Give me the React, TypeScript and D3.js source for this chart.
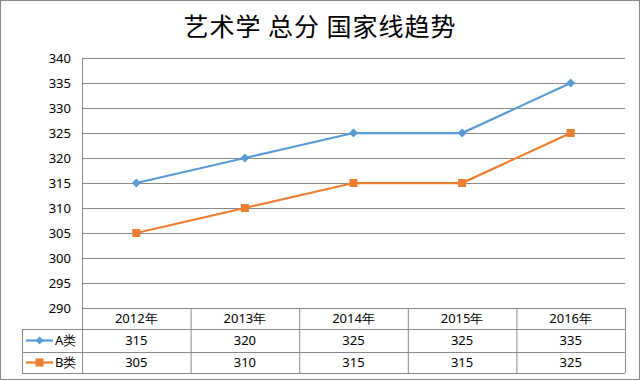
import React from "react";
import * as d3 from "d3";

const categories = ["2012年", "2013年", "2014年", "2015年", "2016年"];
const seriesNames = ["A类", "B类"];
const seriesA = [315, 320, 325, 325, 335];
const seriesB = [305, 310, 315, 315, 325];
const yTicks = [290, 295, 300, 305, 310, 315, 320, 325, 330, 335, 340];
const title = "艺术学 总分 国家线趋势";
const colors = ["#5B9BD5", "#ED7D31"];

const W = 641, H = 381;
const left = 82, right = 625, top = 58, bottom = 308;
const rowH = [308, 329, 352, 373];
const tableLeft = 22;
const grid = "#898989";
const font = "'Noto Sans', 'DejaVu Sans', sans-serif";
const cjk = "'Noto Sans CJK SC', sans-serif";

export default function App() {
  const x = d3.scaleBand<string>().domain(categories).range([left, right]);
  const y = d3.scaleLinear().domain([290, 340]).range([bottom, top]);
  const line = d3.line<number>()
    .x((_, i) => (x(categories[i]) as number) + x.bandwidth() / 2)
    .y((d) => y(d));
  const series = [seriesA, seriesB];

  const diamond = (cx: number, cy: number, r: number) =>
    `M${cx},${cy - r}L${cx + r},${cy}L${cx},${cy + r}L${cx - r},${cy}Z`;

  return (
    <svg width={W} height={H} style={{ position: "absolute", left: 0, top: 0, background: "#fff" }}>
      <rect x={0.5} y={0.5} width={639} height={379} fill="#fff" stroke="#878787" />
      <text x={320} y={36} textAnchor="middle" fontFamily={cjk} fontSize={25} letterSpacing={1} fill="#000">
        {title}
      </text>
      {yTicks.map((t) => (
        <g key={t}>
          <line x1={left} x2={right} y1={Math.round(y(t)) + 0.5} y2={Math.round(y(t)) + 0.5} stroke={grid} />
          <text x={71} y={y(t)} dy="0.35em" textAnchor="end" fontFamily={font} fontSize={13} fill="#000">
            {t}
          </text>
        </g>
      ))}
      <line x1={left + 0.5} x2={left + 0.5} y1={top} y2={rowH[3]} stroke={grid} />
      {/* table */}
      {rowH.map((r, i) => (
        <line key={i} x1={i === 0 ? left : tableLeft} x2={right} y1={r + 0.5} y2={r + 0.5} stroke={grid} />
      ))}
      <line x1={tableLeft + 0.5} x2={tableLeft + 0.5} y1={rowH[1]} y2={rowH[3]} stroke={grid} />
      {categories.map((c) => (
        <line key={c} x1={(x(c) as number) + x.bandwidth() + 0.5} x2={(x(c) as number) + x.bandwidth() + 0.5}
          y1={rowH[0]} y2={rowH[3]} stroke={grid} />
      ))}
      {categories.map((c) => (
        <text key={c} x={(x(c) as number) + x.bandwidth() / 2} y={(rowH[0] + rowH[1]) / 2} dy="0.35em"
          textAnchor="middle" fontFamily={font} fontSize={13} fill="#000">{c}</text>
      ))}
      {series.map((s, si) => (
        <g key={si}>
          {s.map((v, i) => (
            <text key={i} x={(x(categories[i]) as number) + x.bandwidth() / 2} y={(rowH[si + 1] + rowH[si + 2]) / 2}
              dy="0.35em" textAnchor="middle" fontFamily={font} fontSize={13} fill="#000">{v}</text>
          ))}
          <line x1={26} x2={53} y1={(rowH[si + 1] + rowH[si + 2]) / 2} y2={(rowH[si + 1] + rowH[si + 2]) / 2}
            stroke={colors[si]} strokeWidth={2.25} />
          {si === 0 ? (
            <path d={diamond(39.5, (rowH[1] + rowH[2]) / 2, 4)} fill={colors[0]} />
          ) : (
            <rect x={35.5} y={(rowH[2] + rowH[3]) / 2 - 4} width={8} height={8} fill={colors[1]} />
          )}
          <text x={55} y={(rowH[si + 1] + rowH[si + 2]) / 2} dy="0.35em" fontFamily={font} fontSize={13} fill="#000">
            {seriesNames[si]}
          </text>
        </g>
      ))}
      {/* lines */}
      {series.map((s, si) => (
        <g key={"l" + si}>
          <path d={line(s) as string} fill="none" stroke={colors[si]} strokeWidth={2.25} />
          {s.map((v, i) => {
            const cx = (x(categories[i]) as number) + x.bandwidth() / 2;
            const cy = y(v);
            return si === 0 ? (
              <path key={i} d={diamond(cx, cy, 4.5)} fill={colors[0]} />
            ) : (
              <rect key={i} x={cx - 4} y={cy - 4} width={8} height={8} fill={colors[1]} />
            );
          })}
        </g>
      ))}
    </svg>
  );
}
